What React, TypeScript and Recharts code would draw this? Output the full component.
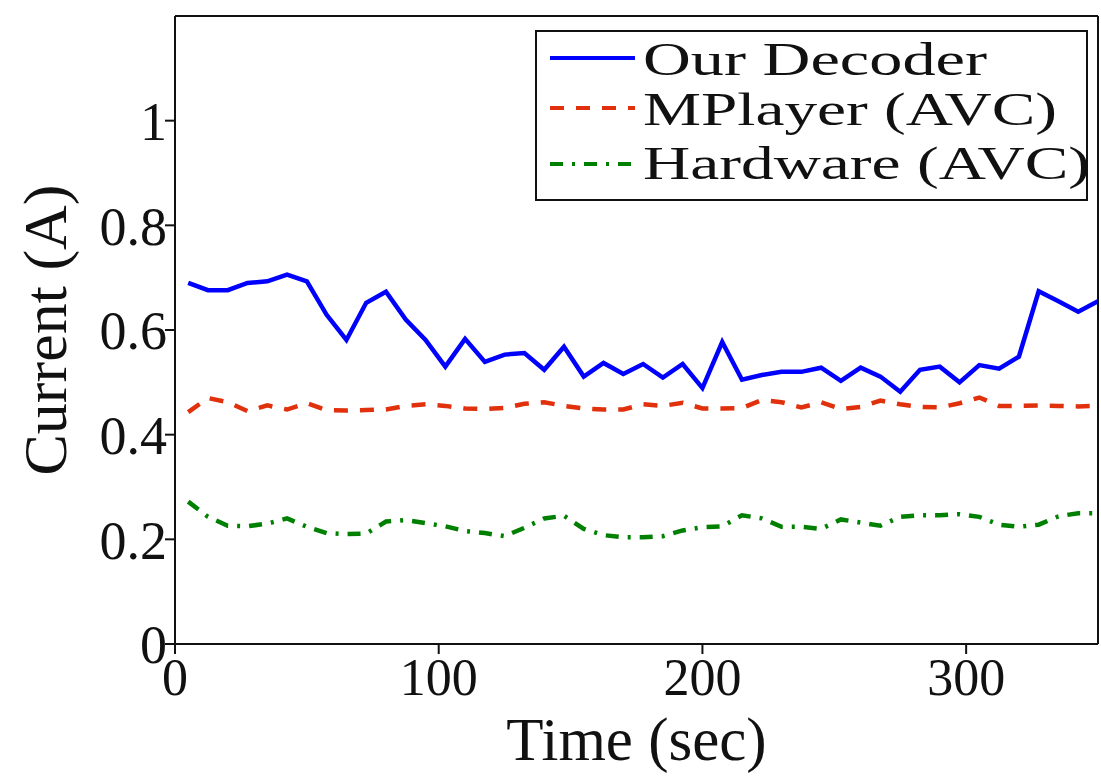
import { LineChart, Line, XAxis, YAxis, Legend } from 'recharts'

const serif = '"Liberation Serif", "DejaVu Serif", serif'

const times = [
  5, 12.5, 20, 27.5, 35, 42.5, 50, 57.5, 65, 72.5, 80, 87.5, 95, 102.5, 110, 117.5,
  125, 132.5, 140, 147.5, 155, 162.5, 170, 177.5, 185, 192.5, 200, 207.5, 215, 222.5,
  230, 237.5, 245, 252.5, 260, 267.5, 275, 282.5, 290, 297.5, 305, 312.5, 320, 327.5,
  335, 342.5, 350,
]

const ourDecoder = [
  0.69, 0.676, 0.676, 0.69, 0.693, 0.706, 0.693, 0.629, 0.581, 0.652, 0.673, 0.62, 0.581,
  0.53, 0.583, 0.539, 0.553, 0.556, 0.524, 0.568, 0.511, 0.537, 0.516, 0.535, 0.509, 0.535,
  0.489, 0.577, 0.505, 0.514, 0.52, 0.52, 0.528, 0.503, 0.528, 0.511, 0.482, 0.524, 0.53,
  0.5, 0.533, 0.526, 0.549, 0.674, 0.655, 0.635, 0.655,
]

const mplayer = [
  0.443, 0.47, 0.462, 0.445, 0.456, 0.448, 0.46, 0.447, 0.446, 0.447, 0.448, 0.455, 0.458,
  0.455, 0.45, 0.449, 0.451, 0.459, 0.462, 0.455, 0.45, 0.448, 0.448, 0.458, 0.455, 0.461,
  0.45, 0.45, 0.451, 0.466, 0.462, 0.452, 0.462, 0.449, 0.453, 0.465, 0.458, 0.453, 0.452,
  0.46, 0.471, 0.455, 0.455, 0.456, 0.455, 0.454, 0.455,
]

const hardware = [
  0.272, 0.243, 0.226, 0.225, 0.23, 0.24, 0.224, 0.212, 0.21, 0.211, 0.234, 0.237, 0.231,
  0.225, 0.216, 0.212, 0.206, 0.222, 0.24, 0.245, 0.22, 0.208, 0.204, 0.204, 0.206, 0.217,
  0.223, 0.225, 0.246, 0.24, 0.224, 0.224, 0.22, 0.238, 0.232, 0.226, 0.243, 0.246, 0.246,
  0.248, 0.243, 0.228, 0.224, 0.228, 0.244, 0.25, 0.25,
]

const xTicks = [0, 100, 200, 300]
const yTicks = [0, 0.2, 0.4, 0.6, 0.8, 1]

const data = times.map((t, i) => ({
  t,
  ours: ourDecoder[i],
  mplayer: mplayer[i],
  hw: hardware[i],
}))

const legendItems = [
  { label: 'Our Decoder', color: '#0000ff', dash: undefined, len: 344, lineY: 28, textY: 45 },
  { label: 'MPlayer (AVC)', color: '#e0300c', dash: '14 12', len: 414, lineY: 78, textY: 95 },
  { label: 'Hardware (AVC)', color: '#008000', dash: '13 9 3 9', len: 447, lineY: 134, textY: 149 },
]

function LegendBox() {
  return (
    <svg width={553} height={171} style={{ overflow: 'visible', display: 'block' }}>
      <rect x={1} y={1} width={551} height={169} fill="#fff" stroke="#111" strokeWidth={2} />
      {legendItems.map((it) => (
        <g key={it.label}>
          <line
            x1={15}
            x2={100}
            y1={it.lineY}
            y2={it.lineY}
            stroke={it.color}
            strokeWidth={4}
            strokeDasharray={it.dash}
          />
          <text
            x={108}
            y={it.textY}
            fontSize={46}
            fontFamily={serif}
            fill="#111"
            textLength={it.len}
            lengthAdjust="spacingAndGlyphs"
          >
            {it.label}
          </text>
        </g>
      ))}
    </svg>
  )
}

const fmtY = (v: number) => (v === 0 ? '0' : v === 1 ? '1' : v.toFixed(1))

export default function App() {
  return (
    <div style={{ position: 'fixed', left: 0, top: 0 }}>
      <LineChart width={1101} height={780} data={data} margin={{ top: 14, right: 1, bottom: 0, left: 0 }}>
        <XAxis
          dataKey="t"
          type="number"
          domain={[0, 350]}
          ticks={xTicks}
          allowDataOverflow
          height={136}
          stroke="#111"
          strokeWidth={2}
          tickSize={10}
          tickMargin={4}
          tick={{ fontSize: 52, fill: '#111', fontFamily: serif }}
          label={{
            value: 'Time (sec)',
            position: 'insideBottom',
            offset: 20,
            style: { fontSize: 61, fill: '#111', fontFamily: serif },
          }}
        />
        <XAxis
          xAxisId="top"
          orientation="top"
          dataKey="t"
          type="number"
          domain={[0, 350]}
          ticks={xTicks}
          height={2}
          stroke="#111"
          strokeWidth={2}
          tickSize={8}
          tick={false}
        />
        <YAxis
          type="number"
          domain={[0, 1.2]}
          ticks={yTicks}
          width={175}
          stroke="#111"
          strokeWidth={2}
          tickSize={10}
          tickMargin={-2}
          tickFormatter={fmtY}
          tick={{ fontSize: 54, fill: '#111', fontFamily: serif }}
          label={{
            value: 'Current (A)',
            angle: -90,
            position: 'insideLeft',
            offset: 44,
            style: { textAnchor: 'middle', fontSize: 62, fill: '#111', fontFamily: serif },
          }}
        />
        <YAxis
          yAxisId="right"
          orientation="right"
          type="number"
          domain={[0, 1.2]}
          ticks={yTicks}
          width={2}
          stroke="#111"
          strokeWidth={2}
          tickSize={8}
          tick={false}
        />
        <Legend
          layout="horizontal"
          verticalAlign="middle"
          align="center"
          content={<LegendBox />}
          wrapperStyle={{ top: 30, left: 535, width: 553, height: 171 }}
        />
        <Line
          type="linear"
          dataKey="hw"
          stroke="#008000"
          strokeWidth={4.5}
          strokeDasharray="13 9 3 9"
          dot={false}
          isAnimationActive={false}
        />
        <Line
          type="linear"
          dataKey="mplayer"
          stroke="#e0300c"
          strokeWidth={4.5}
          strokeDasharray="14 12"
          dot={false}
          isAnimationActive={false}
        />
        <Line
          type="linear"
          dataKey="ours"
          stroke="#0000ff"
          strokeWidth={4.5}
          dot={false}
          isAnimationActive={false}
        />
      </LineChart>
    </div>
  )
}
